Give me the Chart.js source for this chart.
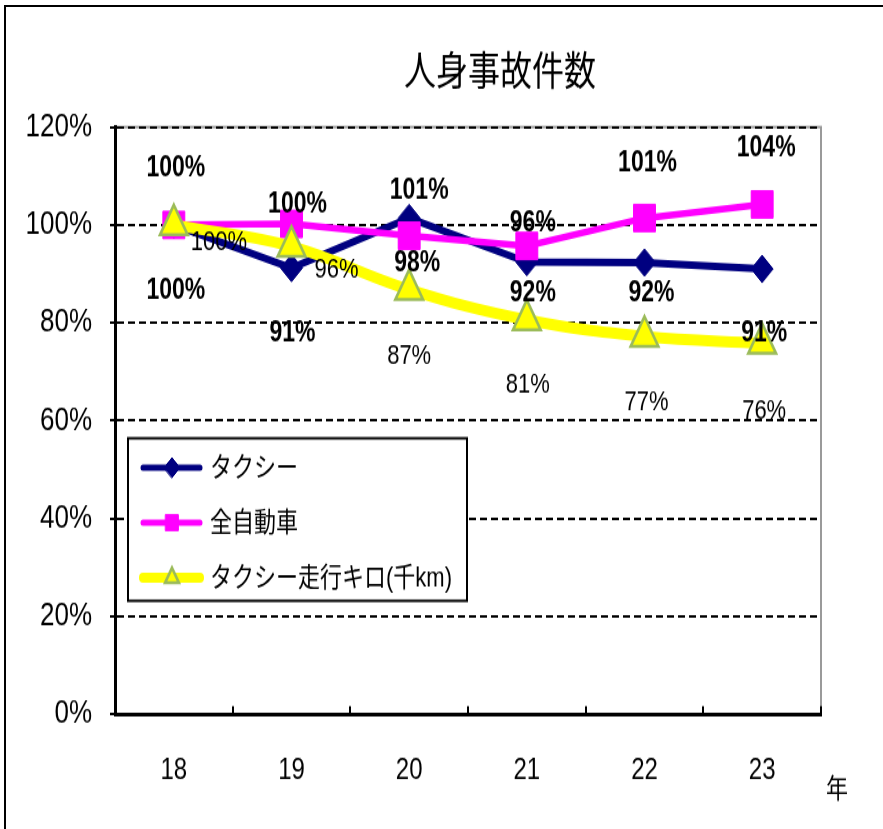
<!DOCTYPE html>
<html>
<head>
<meta charset="utf-8">
<script src="https://cdn.jsdelivr.net/npm/chart.js@4.4.1/dist/chart.umd.min.js"></script>
<style>
  html, body { margin: 0; padding: 0; background: #fff; }
  #wrap { position: relative; width: 883px; height: 829px; overflow: hidden; }
  #frame { position: absolute; left: 4px; top: 5px; width: 900px; height: 900px; border-left: 2px solid #000; border-top: 2px solid #000; }
  #chart { position: absolute; left: 0; top: 0; }
</style>
</head>
<body>
<div id="wrap">
  <div id="frame"></div>
  <canvas id="chart" width="883" height="663" style="width:883px;height:829px"></canvas>
</div>
<script>
// data (percent, FY18 = 100)
const years = ['18', '19', '20', '21', '22', '23'];
const taxi = [100, 91.2, 101.4, 92.4, 92.3, 91.0];
const allCars = [100, 100.2, 97.8, 95.7, 101.4, 104.2];
const taxiKm = [100, 95.6, 86.8, 80.6, 77.2, 75.8];
const yTicks = [0, 20, 40, 60, 80, 100, 120];
const seriesNames = ['タクシー', '全自動車', 'タクシー走行キロ(千km)'];
const chartTitle = '人身事故件数';
const xUnit = '年';

// canvas is drawn 1.25x flatter and stretched by css, like the original picture
const FONT = '"Liberation Sans", "Noto Sans CJK JP", sans-serif';

// label offsets in canvas px, per point
const labelPos = [
    { dx: [2, 1, 10, 6, 7, 2], dy: [53, 52, -22, 25, 25, 52], bold: true },
    { dx: [2, 6, 8, 6, 3, 4], dy: [-45, -15, 22, -18, -44, -45], bold: true },
    { dx: [45, 45, 0, 1, 2, 2], dy: [14, 19, 53, 52, 53, 54], bold: false }
];

const overlay = {
    id: 'overlay',
    beforeDraw(chart) {
        const { ctx, chartArea: a } = chart;
        ctx.save();
        ctx.strokeStyle = '#9a9a9a';
        ctx.lineWidth = 2;
        ctx.strokeRect(a.left, a.top, a.right - a.left, a.bottom - a.top);
        ctx.restore();
    },
    afterDatasetsDraw(chart) {
        const { ctx, chartArea: a } = chart;
        const x = chart.scales.x;
        ctx.save();

        // small ticks pointing up between the years
        ctx.strokeStyle = '#000';
        ctx.lineWidth = 2;
        for (let i = 0; i < years.length; i++) {
            const px = Math.round(x.getPixelForValue(i + 0.5));
            ctx.beginPath();
            ctx.moveTo(px, a.bottom);
            ctx.lineTo(px, a.bottom - 6.5);
            ctx.stroke();
        }

        // value labels
        ctx.fillStyle = '#000';
        ctx.textAlign = 'center';
        ctx.textBaseline = 'middle';
        chart.data.datasets.forEach((ds, di) => {
            const pos = labelPos[di];
            ctx.font = pos.bold ? 'bold 23px ' + FONT : '22px ' + FONT;
            chart.getDatasetMeta(di).data.forEach((pt, i) => {
                ctx.fillText(Math.round(ds.data[i]) + '%', pt.x + pos.dx[i], pt.y + pos.dy[i]);
            });
        });

        // legend box inside the plot
        const bx = 128, by = 350.5, bw = 339, bh = 130;
        ctx.fillStyle = '#fff';
        ctx.fillRect(bx, by, bw, bh);
        ctx.strokeStyle = '#000';
        ctx.lineWidth = 2;
        ctx.strokeRect(bx, by, bw, bh);
        const rowsY = [374, 418, 462];
        chart.data.datasets.forEach((ds, di) => {
            const y = rowsY[di];
            ctx.strokeStyle = ds.borderColor;
            ctx.lineWidth = di === 2 ? 8 : 5;
            ctx.lineCap = 'round';
            ctx.beginPath();
            ctx.moveTo(143, y);
            ctx.lineTo(200, y);
            ctx.stroke();
            ctx.fillStyle = ds.pointBackgroundColor;
            ctx.strokeStyle = ds.pointBorderColor;
            ctx.lineWidth = ds.pointBorderWidth;
            Chart.helpers.drawPoint(ctx, {
                pointStyle: ds.pointStyle,
                radius: di === 1 ? 9 : 8,
                borderWidth: ds.pointBorderWidth,
                rotation: 0
            }, 172, y);
            ctx.fillStyle = '#000';
            ctx.textAlign = 'left';
            ctx.font = '22px ' + FONT;
            ctx.fillText(ds.label, 210, y + 1);
        });
        ctx.restore();
    },
    afterDraw(chart) {
        const { ctx } = chart;
        ctx.save();
        ctx.fillStyle = '#000';
        ctx.textAlign = 'center';
        ctx.textBaseline = 'middle';
        ctx.font = '32px ' + FONT;
        ctx.fillText(chartTitle, 500, 59);
        ctx.font = '22px ' + FONT;
        ctx.fillText(xUnit, 837, 632);
        ctx.restore();
    }
};

new Chart(document.getElementById('chart'), {
    type: 'line',
    data: {
        labels: years,
        datasets: [
            {
                label: seriesNames[0],
                data: taxi,
                order: 3,
                borderColor: '#000080',
                backgroundColor: '#000080',
                borderWidth: 6,
                pointStyle: 'rectRot',
                pointRadius: 11,
                pointBackgroundColor: '#000080',
                pointBorderColor: '#000080',
                pointBorderWidth: 1,
                tension: 0
            },
            {
                label: seriesNames[1],
                data: allCars,
                order: 2,
                borderColor: '#ff00ff',
                backgroundColor: '#ff00ff',
                borderWidth: 5.5,
                pointStyle: 'rect',
                pointRadius: 15.5,
                pointBackgroundColor: '#ff00ff',
                pointBorderColor: '#ff00ff',
                pointBorderWidth: 1,
                tension: 0
            },
            {
                label: seriesNames[2],
                data: taxiKm,
                order: 1,
                borderColor: '#ffff00',
                backgroundColor: '#ffff00',
                borderWidth: 9,
                pointStyle: 'triangle',
                pointRadius: 16,
                pointBackgroundColor: '#ffff00',
                pointBorderColor: '#9bbb59',
                pointBorderWidth: 2.5,
                tension: 0.4
            }
        ]
    },
    options: {
        responsive: false,
        devicePixelRatio: 1,
        animation: false,
        layout: { padding: { left: 0, right: 62, top: 101.6, bottom: 0 } },
        plugins: {
            legend: { display: false },
            title: { display: false },
            tooltip: { enabled: false }
        },
        scales: {
            x: {
                offset: true,
                grid: { display: true, drawOnChartArea: false, drawTicks: false },
                border: { display: true, color: '#000', width: 3 },
                ticks: { color: '#000', padding: 31, font: { family: FONT, size: 24 } },
                afterFit(scale) { scale.height = 91.8; }
            },
            y: {
                min: yTicks[0],
                max: yTicks[yTicks.length - 1],
                grid: {
                    color: '#000',
                    lineWidth: 2,
                    tickLength: 5,
                    tickColor: '#000',
                    tickWidth: 2,
                    tickBorderDash: []
                },
                border: { display: true, color: '#000', width: 3, dash: [7, 4] },
                ticks: {
                    stepSize: yTicks[1] - yTicks[0],
                    color: '#000',
                    padding: 18,
                    font: { family: FONT, size: 26 },
                    callback: v => v + '%'
                },
                afterFit(scale) { scale.width = 115; }
            }
        }
    },
    plugins: [overlay]
});
</script>
</body>
</html>
